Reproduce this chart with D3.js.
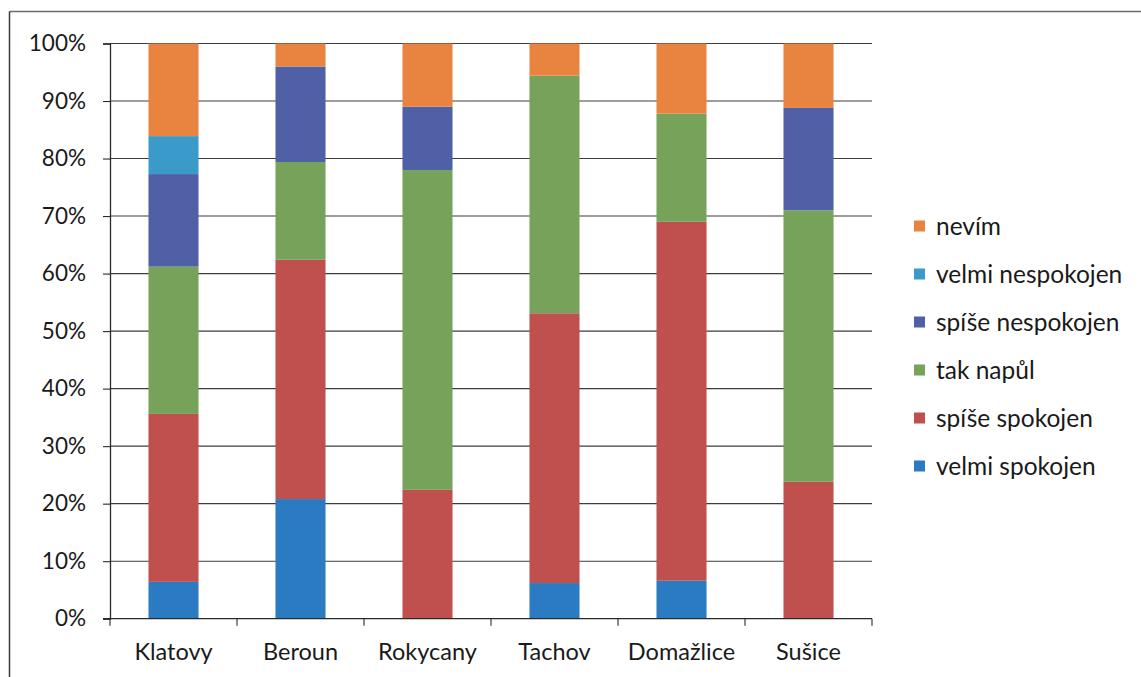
<!DOCTYPE html>
<html>
<head>
<meta charset="utf-8">
<script src="https://cdn.jsdelivr.net/npm/d3@7"></script>
<style>
  html, body { margin: 0; padding: 0; background: #fff; }
  svg { display: block; }
  text { font-family: Lato, "Open Sans", sans-serif; fill: #1a1a1a; }
</style>
</head>
<body>
<svg id="chart" width="1141" height="677"></svg>
<script>
const categories = ["Klatovy", "Beroun", "Rokycany", "Tachov", "Domažlice", "Sušice"];
const seriesNames = ["velmi spokojen", "spíše spokojen", "tak napůl", "spíše nespokojen", "velmi nespokojen", "nevím"];
const velmiSpokojen   = [6.4, 20.8, 0.0, 6.2, 6.6, 0.0];
const spiseSpokojen   = [29.2, 41.6, 22.4, 46.9, 62.4, 23.8];
const takNapul        = [25.6, 17.0, 55.6, 41.3, 18.8, 47.2];
const spiseNespokojen = [16.1, 16.6, 11.0, 0.0, 0.0, 17.8];
const velmiNespokojen = [6.6, 0.0, 0.0, 0.0, 0.0, 0.0];
const nevim           = [16.1, 4.0, 11.0, 5.6, 12.2, 11.2];
const yTicks = [0, 10, 20, 30, 40, 50, 60, 70, 80, 90, 100];
const colors = ["#2a7bc1", "#bf504e", "#77a25a", "#5060a6", "#3a9bcb", "#e8843f"];

const seriesValues = [velmiSpokojen, spiseSpokojen, takNapul, spiseNespokojen, velmiNespokojen, nevim];
const rows = categories.map((c, i) => {
  const r = { cat: c };
  seriesNames.forEach((s, j) => r[s] = seriesValues[j][i]);
  return r;
});
const stacked = d3.stack().keys(seriesNames)(rows);

const svg = d3.select("#chart");
const plot = { left: 110, right: 872, top: 43.5, bottom: 618.7 };

// frame
svg.append("line").attr("x1", 9.5).attr("x2", 1141).attr("y1", 11.5).attr("y2", 11.5)
  .attr("stroke", "#6a6a6a").attr("stroke-width", 1.3);
svg.append("line").attr("x1", 9.5).attr("x2", 9.5).attr("y1", 11.5).attr("y2", 677)
  .attr("stroke", "#3a3a3a").attr("stroke-width", 1.5);

const x = d3.scaleBand().domain(categories).range([plot.left, plot.right]).paddingInner(0.606).paddingOuter(0.303);
const y = d3.scaleLinear().domain([0, 100]).range([plot.bottom, plot.top]);
const color = d3.scaleOrdinal().domain(seriesNames).range(colors);

// gridlines
svg.append("g").selectAll("line").data(yTicks.filter(t => t > 0)).join("line")
  .attr("x1", plot.left).attr("x2", plot.right)
  .attr("y1", d => y(d)).attr("y2", d => y(d))
  .attr("stroke", "#3c3c3c").attr("stroke-width", 1.1);

// bars
svg.append("g").selectAll("g").data(stacked).join("g")
  .attr("fill", d => color(d.key))
  .selectAll("rect").data(d => d).join("rect")
  .attr("x", d => x(d.data.cat))
  .attr("width", x.bandwidth())
  .attr("y", d => y(d[1]))
  .attr("height", d => Math.max(0, y(d[0]) - y(d[1])));

// y axis
const yAxis = d3.axisLeft(y).tickValues(yTicks).tickFormat(d => d + "%").tickSize(7).tickPadding(17);
const gy = svg.append("g").attr("transform", `translate(${plot.left},0)`).call(yAxis);
gy.select(".domain").attr("stroke", "#2a2a2a").attr("stroke-width", 1.3);
gy.selectAll(".tick line").attr("stroke", "#2a2a2a").attr("stroke-width", 1.1);
gy.selectAll(".tick text").attr("font-size", 22.5).attr("fill", "#1a1a1a")
  .attr("font-family", "Lato, sans-serif");

// x axis
const xEdges = d3.scaleLinear().domain([0, categories.length]).range([plot.left, plot.right]);
const gx = svg.append("g").attr("transform", `translate(0,${plot.bottom})`);
gx.append("line").attr("x1", plot.left - 7).attr("x2", plot.right).attr("y1", 0).attr("y2", 0)
  .attr("stroke", "#2a2a2a").attr("stroke-width", 1.3);
gx.selectAll("line.tk").data(d3.range(categories.length + 1)).join("line").attr("class", "tk")
  .attr("x1", d => xEdges(d)).attr("x2", d => xEdges(d)).attr("y1", 0).attr("y2", 7)
  .attr("stroke", "#2a2a2a").attr("stroke-width", 1.1);
gx.selectAll("text").data(categories).join("text")
  .attr("x", d => x(d) + x.bandwidth() / 2).attr("y", 41)
  .attr("text-anchor", "middle").attr("font-size", 23.5).text(d => d);

// legend
const legendOrder = seriesNames.slice().reverse();
const lg = svg.append("g").attr("transform", "translate(914,226)");
const li = lg.selectAll("g").data(legendOrder).join("g")
  .attr("transform", (d, i) => `translate(0,${i * 48})`);
li.append("rect").attr("x", 0).attr("y", -5.5).attr("width", 11).attr("height", 11)
  .attr("fill", d => color(d));
li.append("text").attr("x", 22).attr("y", 0).attr("dy", "0.35em")
  .attr("font-size", 24.5).text(d => d);
</script>
</body>
</html>
